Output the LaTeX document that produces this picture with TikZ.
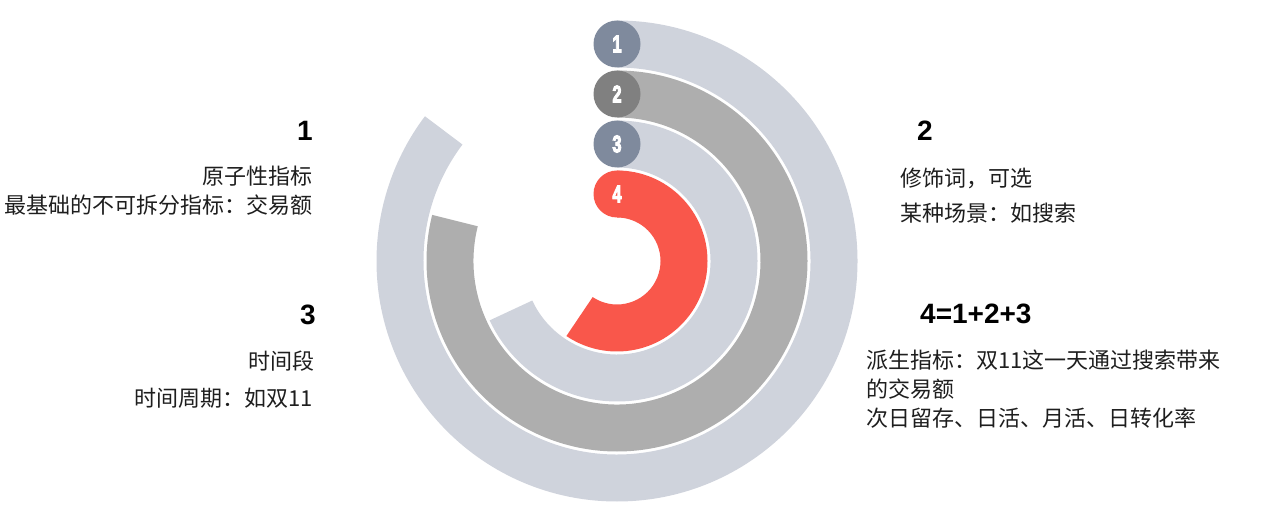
\documentclass[tikz,border=0pt]{standalone}
\usepackage{fontspec}
\usepackage{graphicx}
\setmainfont{Liberation Sans}
\newfontfamily\cjk{Noto Sans CJK SC}
\definecolor{ringlight}{RGB}{207,211,220}
\definecolor{ringdark}{RGB}{174,174,174}
\definecolor{slate}{RGB}{127,138,157}
\definecolor{badgegray}{RGB}{128,128,128}
\definecolor{ringred}{RGB}{249,87,75}
\definecolor{txt}{RGB}{30,30,30}
\newcommand{\myring}[4]{% rin rout endangle color
  \fill[#4] (90:#2) arc[start angle=90,end angle=#3,radius=#2] -- (#3:#1) arc[start angle=#3,end angle=90,radius=#1] -- cycle;}
\newcommand{\badgenum}[1]{\scalebox{0.68}[1]{\special{pdf:literal direct 2 Tr 1.2 w 1 1 1 RG}\textbf{#1}\special{pdf:literal direct 0 Tr}}}
\begin{document}
\begin{tikzpicture}[x=1pt,y=1pt,
  badge/.style={circle, minimum size=47pt, inner sep=0pt, text=white, font=\fontsize{24}{24}\selectfont},
  head/.style={inner sep=0pt, text=black, font=\fontsize{28}{28}\selectfont\bfseries},
  desc/.style={inner sep=0pt, text=txt, font=\cjk\fontsize{22}{22}\selectfont}]
\useasboundingbox (0,0) rectangle (1268,514);
\begin{scope}[shift={(617,253)}]
  \myring{193.5}{240.5}{-217}{ringlight}
  \myring{143.5}{190.5}{-194}{ringdark}
  \myring{93.5}{140.5}{-155}{ringlight}
  \myring{43.5}{90.5}{-124}{ringred}
  \node[badge, fill=slate] (b1) at (90:217) {\badgenum{1}};
  \node[badge, fill=badgegray] (b2) at (90:167) {\badgenum{2}};
  \node[badge, fill=slate] (b3) at (90:117) {\badgenum{3}};
  \node[badge, fill=ringred] (b4) at (90:67) {\badgenum{4}};
\end{scope}
\node[head, anchor=east] (h1) at (313,383) {1};
\node[desc, anchor=east] (d1a) at (313,338) {原子性指标};
\node[desc, anchor=east] (d1b) at (313,309) {最基础的不可拆分指标：交易额};
\node[head, anchor=east] (h3) at (316,199) {3};
\node[desc, anchor=east] (d3a) at (315,153) {时间段};
\node[desc, anchor=east] (d3b) at (313,116) {时间周期：如双11};
\node[head, anchor=west] (h2) at (917,383) {2};
\node[desc, anchor=west] (d2a) at (900,336) {修饰词，可选};
\node[desc, anchor=west] (d2b) at (900,301) {某种场景：如搜索};
\node[head, anchor=west] (h4) at (920,200) {4=1+2+3};
\node[desc, anchor=west] (d4a) at (866,154) {派生指标：双11这一天通过搜索带来};
\node[desc, anchor=west] (d4b) at (866,125) {的交易额};
\node[desc, anchor=west] (d4c) at (866,96) {次日留存、日活、月活、日转化率};
\end{tikzpicture}
\end{document}
